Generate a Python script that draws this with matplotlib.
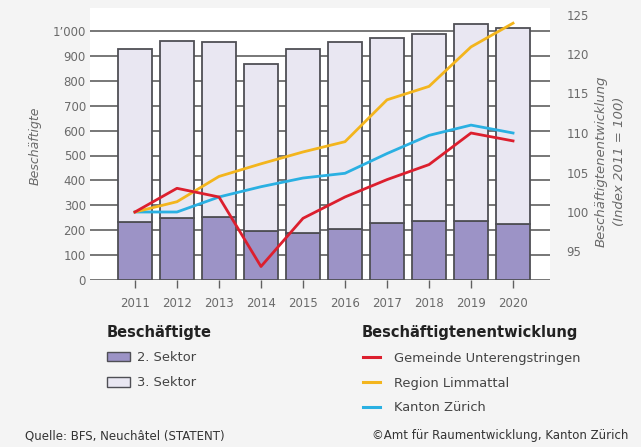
import matplotlib
matplotlib.use("Agg")
import matplotlib.pyplot as plt
from matplotlib.patches import Patch
from matplotlib.lines import Line2D

# data
years = ["2011", "2012", "2013", "2014", "2015", "2016", "2017", "2018", "2019", "2020"]
sektor2 = [234, 248, 254, 197, 190, 205, 230, 238, 238, 225]
total = [926, 960, 956, 867, 928, 957, 970, 987, 1028, 1013]
sektor3 = [t - s for t, s in zip(total, sektor2)]

gemeinde = [100, 103.0, 101.9, 93.1, 99.2, 101.9, 104.1, 106.0, 110.0, 109.0]
region = [100, 101.3, 104.5, 106.1, 107.6, 108.9, 114.2, 115.9, 120.9, 123.9]
kanton = [100, 100.0, 101.9, 103.2, 104.3, 104.9, 107.4, 109.7, 111.0, 110.0]

left_ticks = [0, 100, 200, 300, 400, 500, 600, 700, 800, 900, 1000]
left_labels = ["0", "100", "200", "300", "400", "500", "600", "700", "800", "900", "1\u2019000"]
right_ticks = [95, 100, 105, 110, 115, 120, 125]

C_S2 = "#9c93c6"
C_S3 = "#e9e7f2"
C_EDGE = "#4f4f55"
C_RED = "#dc1f2e"
C_YEL = "#f3b51d"
C_BLUE = "#2ab0e2"
C_GRID = "#606060"
C_TXT = "#6a6a6a"

plt.rcParams["font.family"] = ["DejaVu Sans"]

W, H = 641, 447
fig = plt.figure(figsize=(W / 100, H / 100), dpi=100, facecolor="#f4f4f4")
ax = fig.add_axes([90 / W, 1 - 280 / H, 460 / W, 272 / H])
ax.set_facecolor("white")

x = list(range(len(years)))
ax.bar(x, sektor2, width=0.79, color=C_S2, edgecolor=C_EDGE, linewidth=1.3, zorder=2)
ax.bar(x, sektor3, bottom=sektor2, width=0.79, color=C_S3, edgecolor=C_EDGE,
       linewidth=1.3, zorder=2)

ax.set_xlim(-1.07, 9.88)
ax.set_ylim(0, 272 / 0.249)
ax.set_yticks(left_ticks)
ax.set_yticklabels(left_labels)
ax.grid(axis="y", color=C_GRID, linewidth=1.2)
ax.set_axisbelow(True)
ax.set_xticks(x)
ax.set_xticklabels(years)
ax.tick_params(axis="x", length=6, width=1, color=C_GRID, labelcolor=C_TXT, labelsize=8.5, pad=6)
ax.tick_params(axis="y", length=0, labelsize=8.5, labelcolor=C_TXT, pad=3)
for s in ax.spines.values():
    s.set_visible(False)

ax2 = ax.twinx()
ax2.set_ylim(100 - 68 / 7.9, 100 + 204 / 7.9)
ax2.plot(x, kanton, color=C_BLUE, linewidth=2.0, zorder=3)
ax2.plot(x, region, color=C_YEL, linewidth=2.0, zorder=3)
ax2.plot(x, gemeinde, color=C_RED, linewidth=2.0, zorder=4)
ax2.set_yticks(right_ticks)
ax2.tick_params(axis="y", length=0, labelsize=8.5, labelcolor=C_TXT, pad=12)
for s in ax2.spines.values():
    s.set_visible(False)

fig.text(35 / W, 1 - 146 / H, "Besch\u00e4ftigte", rotation=90, style="italic",
         color=C_TXT, fontsize=9, ha="center", va="center")
fig.text(610 / W, 1 - 161 / H, "Besch\u00e4ftigtenentwicklung\n(Index 2011 = 100)",
         rotation=90, style="italic", color=C_TXT, fontsize=9.5, ha="center",
         va="center", multialignment="center", linespacing=1.5)

# legend titles
fig.text(107 / W, 1 - 333 / H, "Besch\u00e4ftigte", fontsize=10.5, fontweight="bold",
         color="#222222", ha="left", va="center")
fig.text(362 / W, 1 - 333 / H, "Besch\u00e4ftigtenentwicklung", fontsize=10.5,
         fontweight="bold", color="#222222", ha="left", va="center")

# legends
h1 = [Patch(facecolor=C_S2, edgecolor=C_EDGE, linewidth=1),
      Patch(facecolor=C_S3, edgecolor=C_EDGE, linewidth=1)]
leg1 = fig.legend(h1, ["2. Sektor", "3. Sektor"],
                  loc="upper left", bbox_to_anchor=(107 / W, 1 - 351 / H),
                  frameon=False, fontsize=9.35,
                  handlelength=1.77, handleheight=0.77, handletextpad=0.54,
                  labelspacing=0.96, borderpad=0, borderaxespad=0)
for t in leg1.get_texts():
    t.set_color("#444444")

h2 = [Line2D([], [], color=C_RED, linewidth=2.2),
      Line2D([], [], color=C_YEL, linewidth=2.2),
      Line2D([], [], color=C_BLUE, linewidth=2.2)]
leg2 = fig.legend(h2, ["Gemeinde Unterengstringen", "Region Limmattal", "Kanton Z\u00fcrich"],
                  loc="upper left", bbox_to_anchor=(363 / W, 1 - 352 / H),
                  frameon=False, fontsize=9.35,
                  handlelength=1.3, handletextpad=1.08,
                  labelspacing=0.9, borderpad=0, borderaxespad=0)
for t in leg2.get_texts():
    t.set_color("#444444")

fig.text(25 / W, 1 - 436 / H, "Quelle: BFS, Neuch\u00e2tel (STATENT)", fontsize=8.5,
         color="#333333", ha="left", va="center")
fig.text(628 / W, 1 - 436 / H, "\u00a9Amt f\u00fcr Raumentwicklung, Kanton Z\u00fcrich",
         fontsize=8.5, color="#333333", ha="right", va="center")

fig.savefig("out.png", dpi=100, facecolor=fig.get_facecolor())
